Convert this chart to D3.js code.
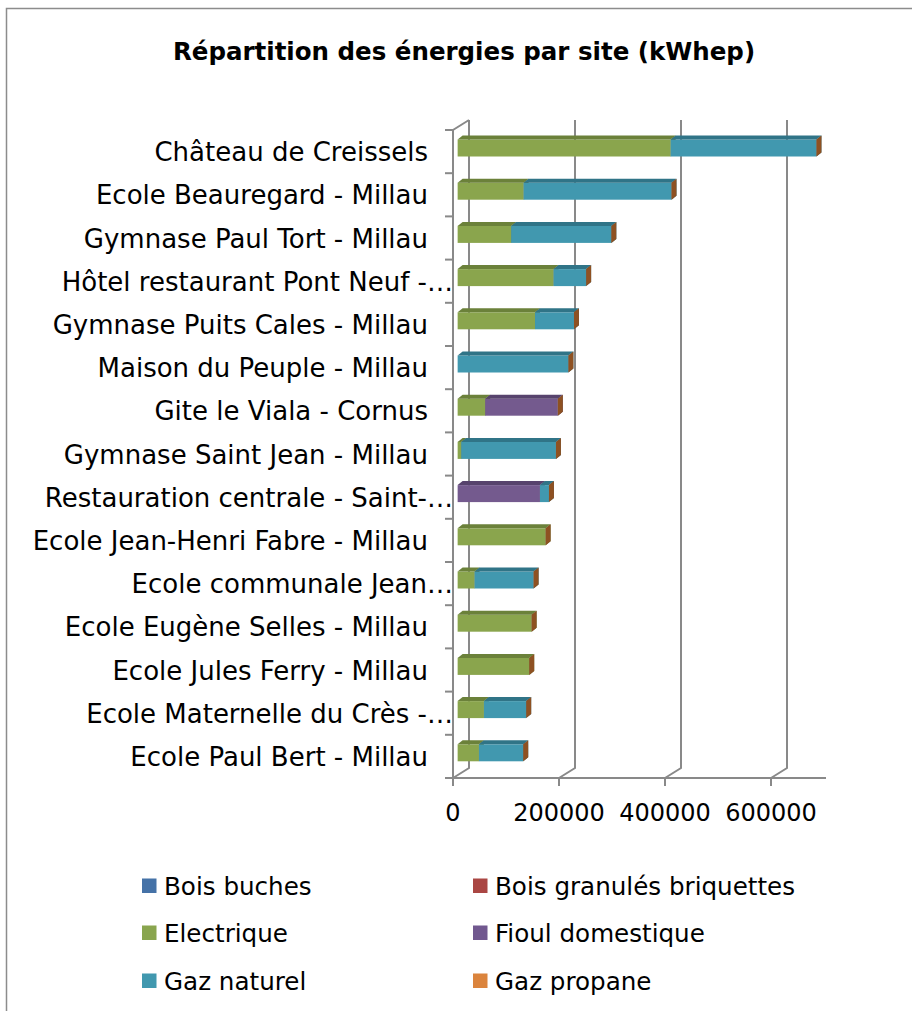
<!DOCTYPE html>
<html>
<head>
<meta charset="utf-8">
<script src="https://cdn.jsdelivr.net/npm/d3@7/dist/d3.min.js"></script>
<style>
  html, body { margin: 0; padding: 0; background: #fff; }
  svg { display: block; }
  text { font-family: "DejaVu Sans", sans-serif; fill: #000; }
</style>
</head>
<body>
<svg id="chart" width="912" height="1011"></svg>
<script>
// ---------- data ----------
const categories = [
  "Château de Creissels",
  "Ecole Beauregard - Millau",
  "Gymnase Paul Tort - Millau",
  "Hôtel restaurant Pont Neuf -…",
  "Gymnase Puits Cales - Millau",
  "Maison du Peuple - Millau",
  "Gite le Viala - Cornus",
  "Gymnase Saint Jean - Millau",
  "Restauration centrale - Saint-…",
  "Ecole Jean-Henri Fabre - Millau",
  "Ecole communale Jean…",
  "Ecole Eugène Selles - Millau",
  "Ecole Jules Ferry - Millau",
  "Ecole Maternelle du Crès -…",
  "Ecole Paul Bert - Millau"
];
const truncated = [false,false,false,true,false,false,false,false,true,false,true,false,false,true,false];
const seriesNames = ["Bois buches","Bois granulés briquettes","Electrique","Fioul domestique","Gaz naturel","Gaz propane"];
const boisBuches   = [0,0,0,0,0,0,0,0,0,0,0,0,0,0,0];
const boisGranules = [0,0,0,0,0,0,0,0,0,0,0,0,0,0,0];
const electrique   = [402000,124500,101000,181000,146000,0,52000,6800,0,166000,32000,139600,135100,49600,40200];
const fioul        = [0,0,0,0,0,0,137000,0,155300,0,0,0,0,0,0];
const gazNaturel   = [275000,279000,189000,61500,73500,209000,0,178700,17000,0,111300,0,0,79800,83600];
const gazPropane   = [0,0,0,0,0,0,0,0,0,0,0,0,0,0,0];
const xTicks = [0,200000,400000,600000];
const xMax = 700000;
const title = "Répartition des énergies par site (kWhep)";

const seriesValues = [boisBuches, boisGranules, electrique, fioul, gazNaturel, gazPropane];
const colors = {
  front: ["#4572A7","#AA4643","#8AA54D","#745A8E","#4198AF","#DB843D"],
  top:   ["#34567F","#803432","#6B813A","#57436D","#307487","#A9632B"],
  side:  ["#2E4C70","#722E2C","#5F7333","#4D3B61","#2A6677","#8E5122"],
  legend:["#4572A7","#AA4643","#89A54E","#71588F","#4198AF","#DB843D"]
};

// ---------- layout ----------
const svg = d3.select("#chart");
const X0 = 453, Yfront0 = 130, Yfloor = 778;
const depth = {dx: 16, dy: -10};
const barD1 = 0.29, barD2 = 0.60;

const x = d3.scaleLinear().domain([0, xMax]).range([X0, X0 + 371]);
const y = d3.scaleBand().domain(categories).range([Yfront0, Yfloor]).paddingInner(0);

// chart border
svg.append("rect").attr("x", 6.5).attr("y", 8.5).attr("width", 1000).attr("height", 1100)
  .attr("fill", "none").attr("stroke", "#8c8c8c").attr("stroke-width", 1.5);

// title
svg.append("text").attr("x", 464).attr("y", 60).attr("text-anchor", "middle")
  .attr("font-size", 24.5).attr("font-weight", "bold").text(title);

const gridColor = "#898989";
// back wall gridlines + floor diagonals
const grid = svg.append("g").attr("stroke", gridColor).attr("stroke-width", 2).attr("fill", "none");
xTicks.forEach(t => {
  const fx = x(t);
  grid.append("path").attr("d",
    `M${fx + depth.dx},${Yfront0 + depth.dy} L${fx + depth.dx},${Yfloor + depth.dy} L${fx},${Yfloor}`);
});
// left wall top diagonal + front axis line
grid.append("path").attr("d", `M${X0},${Yfloor + 8} L${X0},${Yfront0} L${X0 + depth.dx},${Yfront0 + depth.dy}`);
// floor front line
grid.append("path").attr("d", `M${X0 - 8},${Yfloor} L${x(xMax) + 2},${Yfloor}`);
// x ticks
xTicks.forEach(t => {
  grid.append("path").attr("d", `M${x(t)},${Yfloor} L${x(t)},${Yfloor + 8}`);
});
// y ticks at band boundaries
categories.forEach((c, i) => {
  grid.append("path").attr("d", `M${X0 - 8},${y(c)} L${X0},${y(c)}`);
});

// bars
const bw = 17;
const barsG = svg.append("g");
categories.forEach((c, i) => {
  let cum = 0;
  const yTop = y(c) + 9.5;
  const ox = depth.dx * barD1;
  const sdx = depth.dx * (barD2 - barD1), sdy = -4;
  seriesValues.forEach((vals, s) => {
    const v = vals[i];
    const x1 = x(cum) + ox, x2 = x(cum + v) + ox;
    cum += v;
    const g = barsG.append("g");
    if (v > 0) {
      g.append("rect").attr("x", x1).attr("y", yTop).attr("width", x2 - x1).attr("height", bw)
        .attr("fill", colors.front[s]);
      g.append("path").attr("d",
        `M${x1},${yTop} L${x1 + sdx},${yTop + sdy} L${x2 + sdx},${yTop + sdy} L${x2},${yTop} Z`)
        .attr("fill", colors.top[s]);
    }
    if (v > 0 || s === seriesValues.length - 1) {
      g.append("path").attr("d",
        `M${x2},${yTop} L${x2 + sdx},${yTop + sdy} L${x2 + sdx},${yTop + bw + sdy} L${x2},${yTop + bw} Z`)
        .attr("fill", colors.side[s]);
    }
  });
});

// category labels
categories.forEach((c, i) => {
  svg.append("text")
    .attr("x", truncated[i] ? 453 : 428)
    .attr("y", y(c) + y.bandwidth() / 2 + 9.5)
    .attr("text-anchor", "end")
    .attr("font-size", 26)
    .text(c);
});

// x tick labels
xTicks.forEach(t => {
  svg.append("text").attr("x", x(t)).attr("y", 821).attr("text-anchor", "middle")
    .attr("font-size", 24).text(t);
});

// legend
const legX = [142, 473], legY = [886, 933, 981];
seriesNames.forEach((n, i) => {
  const col = i % 2, row = Math.floor(i / 2);
  const g = svg.append("g");
  g.append("rect").attr("x", legX[col]).attr("y", legY[row] - 7.5).attr("width", 14.5).attr("height", 14.5)
    .attr("fill", colors.legend[i]);
  g.append("text").attr("x", legX[col] + 22).attr("y", legY[row] + 9).attr("font-size", 24.6).text(n);
});
</script>
</body>
</html>
